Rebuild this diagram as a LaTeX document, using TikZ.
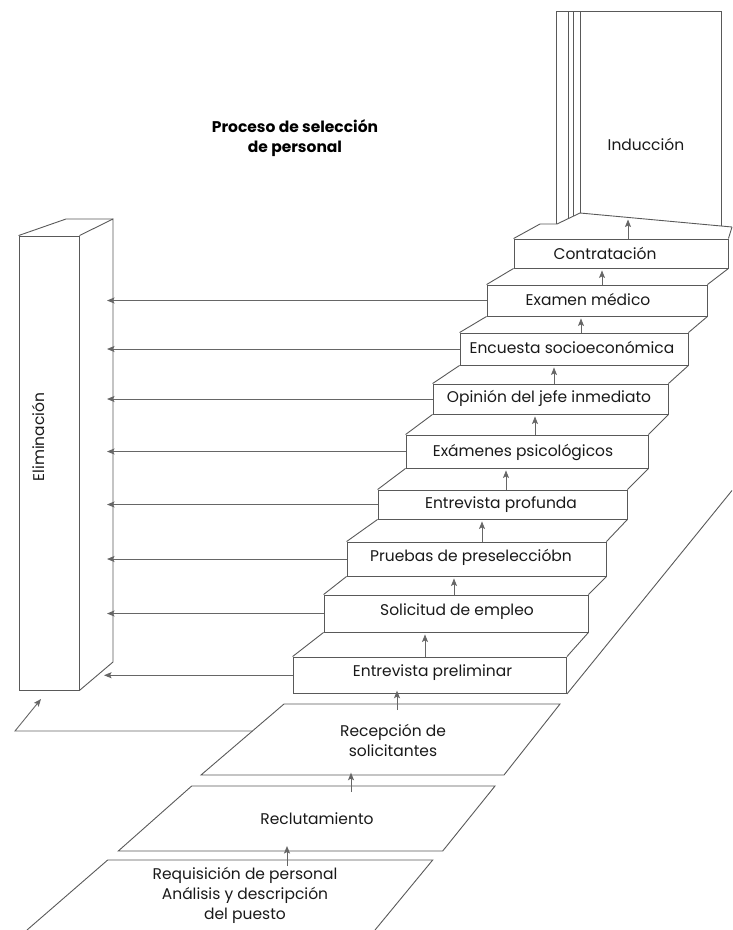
\documentclass[tikz,border=0pt]{standalone}
\usepackage{fontspec}
\setmainfont{Poppins}
\usetikzlibrary{arrows.meta,calc}
\begin{document}
\begin{tikzpicture}[x=1pt,y=-1pt,
  edge/.style={draw=black!65, line width=0.9pt, line join=miter},
  stepbox/.style={edge, rectangle, inner sep=0pt},
  arr/.style={draw=black!60, line width=0.9pt, -{Stealth[length=7.5pt,width=6pt,inset=1.5pt]}},
  lbl/.style={text=black!90, font=\fontsize{15.5}{20}\selectfont, inner sep=0pt, align=center},
  ttl/.style={text=black, font=\bfseries\fontsize{15.5}{20}\selectfont, inner sep=0pt, align=center},
]
\useasboundingbox (0,0) rectangle (732,930);

% ---------- ground plates ----------
\coordinate (q1) at (107.7,860); \coordinate (q2) at (432.7,860);
\coordinate (q3) at (375,930);   \coordinate (q4) at (27,930);
\draw[edge] (q4) -- (q1) -- (q2) -- (q3);
\coordinate (r1) at (191.7,786); \coordinate (r2) at (495,786);
\coordinate (r3) at (442.7,851); \coordinate (r4) at (118.3,851);
\draw[edge] (r1) -- (r2) -- (r3) -- (r4) -- cycle;
\coordinate (p1) at (284,704); \coordinate (p2) at (560,704);
\coordinate (p3) at (504,775); \coordinate (p4) at (201,775);
\draw[edge] (p1) -- (p2) -- (p3) -- (p4) -- cycle;

\node[lbl] (req) at (245,895) {Requisición de personal\\Análisis y descripción\\del puesto};
\node[lbl] (rec) at (317,819) {Reclutamiento};
\node[lbl] (rcp) at (393,740) {Recepción de\\solicitantes};

% ---------- steps ----------
\node[stepbox, minimum width=214pt,   minimum height=29pt]   (s1) at (621,253.5)   {};
\node[stepbox, minimum width=220pt,   minimum height=31pt]   (s2) at (597,300.5)   {};
\node[stepbox, minimum width=228pt,   minimum height=32pt]   (s3) at (574,349)     {};
\node[stepbox, minimum width=235pt,   minimum height=30pt]   (s4) at (550.5,399)   {};
\node[stepbox, minimum width=242pt,   minimum height=33pt]   (s5) at (527,451.5)   {};
\node[stepbox, minimum width=249pt,   minimum height=29pt]   (s6) at (502.5,504.5) {};
\node[stepbox, minimum width=259pt,   minimum height=34pt]   (s7) at (476.5,559)   {};
\node[stepbox, minimum width=264pt,   minimum height=37pt]   (s8) at (456,613.5)   {};
\node[stepbox, minimum width=273.5pt, minimum height=36.5pt] (s9) at (429.75,675.25) {};

\node[lbl] (t1) at (605,253)   {Contratación};
\node[lbl] (t2) at (588,299.5) {Examen médico};
\node[lbl] (t3) at (572,347)   {Encuesta socioeconómica};
\node[lbl] (t4) at (549,398.5) {Opinión del jefe inmediato};
\node[lbl] (t5) at (523,452)   {Exámenes psicológicos};
\node[lbl] (t6) at (501,504.5) {Entrevista profunda};
\node[lbl] (t7) at (471,557)   {Pruebas de preseleccióbn};
\node[lbl] (t8) at (457,612)   {Solicitud de empleo};
\node[lbl] (t9) at (432.5,672.5) {Entrevista preliminar};

% treads between the risers
\foreach \a/\b in {2/1,3/2,4/3,5/4,6/5,7/6,8/7,9/8}{
  \draw[edge] (s\a.north west) -- (s\b.south west);
  \draw[edge] (s\a.north east) -- (s\b.south east);
}
\coordinate (railend) at (732,490.5);
\draw[edge] (s9.south east) -- (railend);

% ---------- landing and door ----------
\draw[edge] (s1.north west) -- (540,224) -- (557,224) -- (580,213);
\draw[edge] (s1.north east) -- (732,227);
\draw[edge] (556,224) -- (556,11) -- (721,11) -- (721,226);
\draw[edge] (568,218.5) -- (568,11);
\draw[edge] (573,216) -- (573,11);
\draw[edge] (580,213) -- (580,11);
\draw[edge] (580,213) -- (732,227);
\node[lbl] (ind) at (646,144) {Inducción};
\coordinate (indb) at (628,217.5);

% ---------- elimination column ----------
\node[stepbox, minimum width=60pt, minimum height=454pt] (elim) at (49,463) {};
\draw[edge] (elim.north east) -- (113,219) -- (113,662) -- (elim.south east);
\draw[edge] (elim.north west) -- (66,219) -- (113,219);
\node[lbl, rotate=90] (elimt) at (38,437) {Eliminación};

% ---------- title ----------
\node[ttl] (title) at (295,138) {Proceso de selección\\de personal};

% ---------- upward arrows ----------
\draw[arr, shorten >=2pt] (s1.north -| indb) -- (indb);
\foreach \a/\b/\x in {2/1/602,3/2/581,4/3/554,5/4/535,6/5/506,7/6/482,8/7/454,9/8/425}{
  \coordinate (ax) at (\x,0);
  \draw[arr, shorten >=2pt] (s\a.north -| ax) -- (s\b.south -| ax);
}
\coordinate (ua) at (397,710); \coordinate (ub) at (397,690.7);
\draw[arr] (ua) -- (ub);
\coordinate (va) at (351,792); \coordinate (vb) at (351,772.7);
\draw[arr] (va) -- (vb);
\coordinate (wa) at (287,866); \coordinate (wb) at (287,846);
\draw[arr] (wa) -- (wb);

% ---------- arrows to elimination ----------
\coordinate (et) at (107,0);
\foreach \s in {2,...,8}{
  \draw[arr] (s\s.west) -- (s\s.west -| et);
}
\coordinate (et9) at (104,0);
\draw[arr] (s9.west) -- (s9.west -| et9);
\coordinate (pl) at ($(p1)!27/71!(p4)$);
\coordinate (bend) at (15,731);
\coordinate (etip) at (41,699);
\draw[arr] (pl) -- (bend) -- (etip);
\end{tikzpicture}
\end{document}
